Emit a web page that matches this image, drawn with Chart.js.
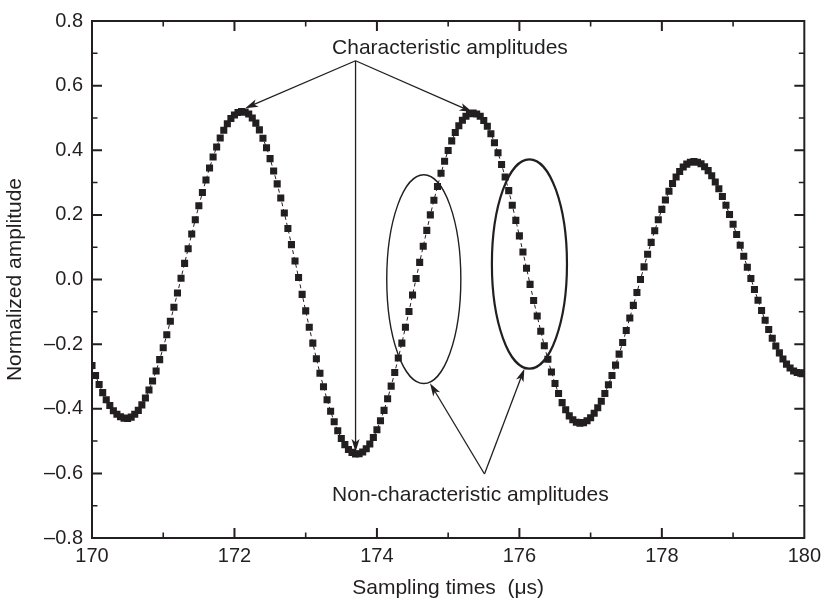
<!DOCTYPE html>
<html lang="en">
<head>
<meta charset="UTF-8">
<title>Normalized amplitude vs sampling time</title>
<script src="https://cdn.jsdelivr.net/npm/chart.js"></script>
<style>
  body { margin: 0; padding: 0; background: #fff; }
  #wrap { width: 827px; height: 605px; }
</style>
</head>
<body>
<div id="wrap"><canvas id="ampChart" width="827" height="605"></canvas></div>
<script>
// sampling times (us), one row per microsecond
const sampleTimes = [
  170,170.05,170.1,170.15,170.2,170.25,170.3,170.35,170.4,170.45,170.5,170.55,170.6,170.65,170.7,170.75,170.8,170.85,170.9,170.95,
  171,171.05,171.1,171.15,171.2,171.25,171.3,171.35,171.4,171.45,171.5,171.55,171.6,171.65,171.7,171.75,171.8,171.85,171.9,171.95,
  172,172.05,172.1,172.15,172.2,172.25,172.3,172.35,172.4,172.45,172.5,172.55,172.6,172.65,172.7,172.75,172.8,172.85,172.9,172.95,
  173,173.05,173.1,173.15,173.2,173.25,173.3,173.35,173.4,173.45,173.5,173.55,173.6,173.65,173.7,173.75,173.8,173.85,173.9,173.95,
  174,174.05,174.1,174.15,174.2,174.25,174.3,174.35,174.4,174.45,174.5,174.55,174.6,174.65,174.7,174.75,174.8,174.85,174.9,174.95,
  175,175.05,175.1,175.15,175.2,175.25,175.3,175.35,175.4,175.45,175.5,175.55,175.6,175.65,175.7,175.75,175.8,175.85,175.9,175.95,
  176,176.05,176.1,176.15,176.2,176.25,176.3,176.35,176.4,176.45,176.5,176.55,176.6,176.65,176.7,176.75,176.8,176.85,176.9,176.95,
  177,177.05,177.1,177.15,177.2,177.25,177.3,177.35,177.4,177.45,177.5,177.55,177.6,177.65,177.7,177.75,177.8,177.85,177.9,177.95,
  178,178.05,178.1,178.15,178.2,178.25,178.3,178.35,178.4,178.45,178.5,178.55,178.6,178.65,178.7,178.75,178.8,178.85,178.9,178.95,
  179,179.05,179.1,179.15,179.2,179.25,179.3,179.35,179.4,179.45,179.5,179.55,179.6,179.65,179.7,179.75,179.8,179.85,179.9,179.95,
  180
];

// normalized amplitude, same order as sampleTimes
const amplitudes = [
  -0.266,-0.297,-0.325,-0.350,-0.372,-0.390,-0.406,-0.417,-0.425,-0.429,-0.430,-0.426,-0.417,-0.405,-0.388,-0.367,-0.342,-0.314,-0.283,-0.248,
  -0.211,-0.171,-0.129,-0.086,-0.042,0.004,0.050,0.095,0.141,0.185,0.228,0.269,0.308,0.345,0.379,0.410,0.438,0.462,0.482,0.498,
  0.509,0.517,0.520,0.518,0.512,0.500,0.484,0.463,0.437,0.408,0.374,0.336,0.296,0.252,0.206,0.158,0.108,0.057,0.006,-0.046,
  -0.097,-0.148,-0.197,-0.245,-0.290,-0.332,-0.372,-0.408,-0.440,-0.468,-0.492,-0.511,-0.526,-0.535,-0.540,-0.539,-0.534,-0.524,-0.509,-0.489,
  -0.465,-0.437,-0.405,-0.369,-0.330,-0.288,-0.243,-0.197,-0.148,-0.099,-0.048,0.003,0.053,0.103,0.152,0.200,0.245,0.288,0.329,0.366,
  0.399,0.429,0.455,0.476,0.493,0.505,0.513,0.515,0.512,0.505,0.492,0.474,0.451,0.423,0.392,0.356,0.317,0.275,0.230,0.183,
  0.135,0.085,0.035,-0.015,-0.065,-0.113,-0.160,-0.205,-0.247,-0.286,-0.322,-0.353,-0.381,-0.403,-0.422,-0.434,-0.442,-0.445,-0.443,-0.437,
  -0.428,-0.414,-0.397,-0.377,-0.353,-0.326,-0.297,-0.265,-0.231,-0.195,-0.158,-0.119,-0.080,-0.040,0.000,0.039,0.078,0.115,0.151,0.185,
  0.217,0.246,0.273,0.297,0.317,0.334,0.348,0.357,0.363,0.365,0.363,0.358,0.349,0.337,0.321,0.302,0.281,0.257,0.230,0.201,
  0.171,0.139,0.106,0.072,0.038,0.003,-0.031,-0.064,-0.096,-0.126,-0.155,-0.182,-0.206,-0.227,-0.246,-0.262,-0.274,-0.283,-0.288,-0.290,
  -0.289
];

const xTicks = [170, 172, 174, 176, 178, 180];
const xMinorTicks = [171, 173, 175, 177, 179];
const yTicks = [-0.8, -0.6, -0.4, -0.2, 0, 0.2, 0.4, 0.6, 0.8];
const yMinorTicks = [-0.7, -0.5, -0.3, -0.1, 0.1, 0.3, 0.5, 0.7];

const INK = '#231f20';
const FONT = "'Liberation Sans', Arial, Helvetica, sans-serif";

// annotations, in data units
const charNote = { text: 'Characteristic amplitudes', x: 173.37, y: 0.699 };
const charApex = { x: 173.70, y: 0.677 };
const charTargets = [{ x: 172.15, y: 0.530 }, { x: 175.34, y: 0.518 }, { x: 173.70, y: -0.534 }];
const nonNote = { text: 'Non-characteristic amplitudes', x: 173.37, y: -0.684 };
const nonApex = { x: 175.51, y: -0.602 };
const nonTargets = [{ x: 174.745, y: -0.321 }, { x: 176.07, y: -0.276 }];
const rings = [
  { x: 174.658, y: 0.001, rx: 0.52, ry: 0.323, lw: 1.4 },
  { x: 176.141, y: 0.048, rx: 0.527, ry: 0.324, lw: 2.2 }
];

function drawArrow(ctx, x0, y0, x1, y1) {
  const a = Math.atan2(y1 - y0, x1 - x0);
  const len = 13, half = 4;
  ctx.beginPath();
  ctx.moveTo(x0, y0);
  ctx.lineTo(x1 - len * 0.7 * Math.cos(a), y1 - len * 0.7 * Math.sin(a));
  ctx.stroke();
  ctx.save();
  ctx.translate(x1, y1);
  ctx.rotate(a);
  ctx.beginPath();
  ctx.moveTo(0, 0);
  ctx.lineTo(-len, -half);
  ctx.lineTo(-len * 0.75, 0);
  ctx.lineTo(-len, half);
  ctx.closePath();
  ctx.fill();
  ctx.restore();
}

const framePlugin = {
  id: 'frame',
  afterDraw(chart) {
    const ctx = chart.ctx;
    const xs = chart.scales.x, ys = chart.scales.y;
    const a = chart.chartArea;
    ctx.save();
    ctx.strokeStyle = INK;
    ctx.fillStyle = INK;
    ctx.lineCap = 'butt';

    // inward ticks on all four sides
    function tickSet(vals, len, w) {
      ctx.lineWidth = w;
      ctx.beginPath();
      vals.forEach(v => {
        const px = xs.getPixelForValue(v);
        if (px > a.left + 1 && px < a.right - 1) {
          ctx.moveTo(px, a.bottom); ctx.lineTo(px, a.bottom - len);
          ctx.moveTo(px, a.top); ctx.lineTo(px, a.top + len);
        }
      });
      ctx.stroke();
    }
    function yTickSet(vals, len, w) {
      ctx.lineWidth = w;
      ctx.beginPath();
      vals.forEach(v => {
        const py = ys.getPixelForValue(v);
        if (py > a.top + 1 && py < a.bottom - 1) {
          ctx.moveTo(a.left, py); ctx.lineTo(a.left + len, py);
          ctx.moveTo(a.right, py); ctx.lineTo(a.right - len, py);
        }
      });
      ctx.stroke();
    }
    tickSet(xTicks, 10, 2);
    tickSet(xMinorTicks, 5.5, 1.6);
    yTickSet(yTicks, 10, 2);
    yTickSet(yMinorTicks, 5.5, 1.6);

    ctx.lineWidth = 2;
    ctx.strokeRect(a.left, a.top, a.right - a.left, a.bottom - a.top);

    // ellipses
    rings.forEach(r => {
      const cx = xs.getPixelForValue(r.x), cy = ys.getPixelForValue(r.y);
      const rx = xs.getPixelForValue(r.x + r.rx) - cx;
      const ry = cy - ys.getPixelForValue(r.y + r.ry);
      ctx.lineWidth = r.lw;
      ctx.beginPath();
      ctx.ellipse(cx, cy, rx, ry, 0, 0, Math.PI * 2);
      ctx.stroke();
    });

    // arrows
    ctx.lineWidth = 1.3;
    const cax = xs.getPixelForValue(charApex.x), cay = ys.getPixelForValue(charApex.y);
    charTargets.forEach(t => drawArrow(ctx, cax, cay, xs.getPixelForValue(t.x), ys.getPixelForValue(t.y)));
    const nax = xs.getPixelForValue(nonApex.x), nay = ys.getPixelForValue(nonApex.y);
    nonTargets.forEach(t => drawArrow(ctx, nax, nay, xs.getPixelForValue(t.x), ys.getPixelForValue(t.y)));

    // labels
    ctx.font = '21px ' + FONT;
    ctx.textAlign = 'left';
    ctx.textBaseline = 'alphabetic';
    [charNote, nonNote].forEach(n => {
      ctx.fillText(n.text, xs.getPixelForValue(n.x), ys.getPixelForValue(n.y));
    });
    ctx.restore();
  }
};

new Chart(document.getElementById('ampChart'), {
  type: 'line',
  data: {
    datasets: [{
      data: sampleTimes.map((t, i) => ({ x: t, y: amplitudes[i] })),
      borderColor: INK,
      backgroundColor: INK,
      borderWidth: 1,
      borderDash: [4, 3],
      pointStyle: 'rect',
      pointRadius: 5,
      pointBorderWidth: 0,
      tension: 0
    }]
  },
  options: {
    responsive: false,
    animation: false,
    devicePixelRatio: 1,
    layout: { padding: { left: 0, right: 19, top: 15, bottom: 0 } },
    plugins: { legend: { display: false }, tooltip: { enabled: false } },
    scales: {
      x: {
        type: 'linear',
        min: 170,
        max: 180,
        afterBuildTicks: s => { s.ticks = xTicks.map(v => ({ value: v })); },
        afterFit: s => { s.height = 67; },
        grid: { display: false, drawTicks: false },
        border: { display: false },
        ticks: {
          color: INK,
          font: { family: FONT, size: 20 },
          padding: 6,
          maxRotation: 0,
          autoSkip: false,
          callback: v => String(v)
        },
        title: {
          display: true,
          text: 'Sampling times  (μs)',
          color: INK,
          font: { family: FONT, size: 21 },
          padding: { top: 0, bottom: 4 }
        }
      },
      y: {
        min: -0.8,
        max: 0.8,
        afterBuildTicks: s => { s.ticks = yTicks.map(v => ({ value: v })); },
        afterFit: s => { s.width = 92; },
        grid: { display: false, drawTicks: false },
        border: { display: false },
        ticks: {
          color: INK,
          font: { family: FONT, size: 20 },
          padding: 9,
          callback: v => v.toFixed(1).replace('-', '\u2013')
        },
        title: {
          display: true,
          text: 'Normalized amplitude',
          color: INK,
          font: { family: FONT, size: 21 },
          padding: { top: 3, bottom: 0 }
        }
      }
    }
  },
  plugins: [framePlugin]
});
</script>
</body>
</html>
